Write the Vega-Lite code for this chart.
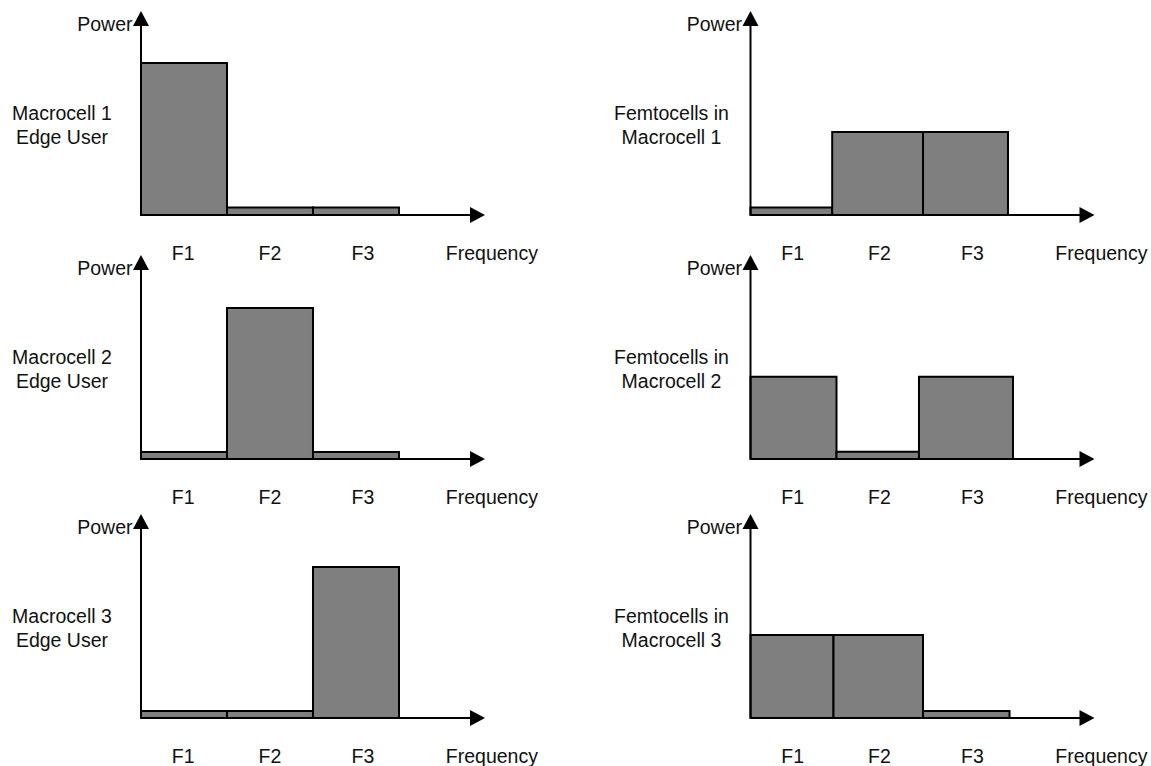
{
  "$schema": "https://vega.github.io/schema/vega-lite/v6.json",
  "padding": 0,
  "background": "white",
  "spacing": 0,
  "bounds": "flush",
  "align": "each",
  "columns": 2,
  "config": {"view": {"stroke": null}, "concat": {"spacing": 0}},
  "resolve": {"scale": {"x": "independent", "y": "independent"}},
  "datasets": {
    "bars": [
      {"panel": "M1", "band": "F1", "x": 0, "xe": 1, "y": 1.0},
      {"panel": "M1", "band": "F2", "x": 1, "xe": 2, "y": 0.049},
      {"panel": "M1", "band": "F3", "x": 2, "xe": 3, "y": 0.049},
      {"panel": "M2", "band": "F1", "x": 0, "xe": 1, "y": 0.046},
      {"panel": "M2", "band": "F2", "x": 1, "xe": 2, "y": 0.993},
      {"panel": "M2", "band": "F3", "x": 2, "xe": 3, "y": 0.046},
      {"panel": "M3", "band": "F1", "x": 0, "xe": 1, "y": 0.046},
      {"panel": "M3", "band": "F2", "x": 1, "xe": 2, "y": 0.046},
      {"panel": "M3", "band": "F3", "x": 2, "xe": 3, "y": 0.993},
      {"panel": "E1", "band": "F1", "x": 0, "xe": 0.95, "y": 0.05},
      {"panel": "E1", "band": "F2", "x": 0.95, "xe": 2.006, "y": 0.546},
      {"panel": "E1", "band": "F3", "x": 2.006, "xe": 2.994, "y": 0.546},
      {"panel": "E2", "band": "F1", "x": 0, "xe": 1.0, "y": 0.541},
      {"panel": "E2", "band": "F2", "x": 1.0, "xe": 1.959, "y": 0.048},
      {"panel": "E2", "band": "F3", "x": 1.959, "xe": 3.052, "y": 0.541},
      {"panel": "E3", "band": "F1", "x": 0, "xe": 0.965, "y": 0.546},
      {"panel": "E3", "band": "F2", "x": 0.965, "xe": 2.006, "y": 0.546},
      {"panel": "E3", "band": "F3", "x": 2.006, "xe": 3.012, "y": 0.046}
    ],
    "axes": [
      {"x": 0, "y": 0, "xe": 0, "ye": 1.25},
      {"x": 0, "y": 0, "xe": 3.84, "ye": 0}
    ],
    "arrows": [
      {"x": 0, "y": 1.342, "dir": "up"},
      {"x": 4.0, "y": 0, "dir": "right"}
    ],
    "texts": [
      {"panel": "all", "label": "Power", "x": -0.42, "y": 1.2125},
      {"panel": "all", "label": "F1", "x": 0.49, "y": -0.296},
      {"panel": "all", "label": "F2", "x": 1.5, "y": -0.296},
      {"panel": "all", "label": "F3", "x": 2.58, "y": -0.296},
      {"panel": "all", "label": "Frequency", "x": 4.08, "y": -0.296},
      {"panel": "M1", "label": "Macrocell 1", "x": -0.919, "y": 0.625},
      {"panel": "M1", "label": "Edge User", "x": -0.919, "y": 0.467},
      {"panel": "M2", "label": "Macrocell 2", "x": -0.919, "y": 0.625},
      {"panel": "M2", "label": "Edge User", "x": -0.919, "y": 0.467},
      {"panel": "M3", "label": "Macrocell 3", "x": -0.919, "y": 0.625},
      {"panel": "M3", "label": "Edge User", "x": -0.919, "y": 0.467},
      {"panel": "E1", "label": "Femtocells in", "x": -0.919, "y": 0.625},
      {"panel": "E1", "label": "Macrocell 1", "x": -0.919, "y": 0.467},
      {"panel": "E2", "label": "Femtocells in", "x": -0.919, "y": 0.625},
      {"panel": "E2", "label": "Macrocell 2", "x": -0.919, "y": 0.467},
      {"panel": "E3", "label": "Femtocells in", "x": -0.919, "y": 0.625},
      {"panel": "E3", "label": "Macrocell 3", "x": -0.919, "y": 0.467}
    ]
  },
  "concat": [
    {
      "width": 575, "height": 245,
      "encoding": {
        "x": {"field": "x", "type": "quantitative", "scale": {"domain": [-1.6395, 5.0465], "nice": false, "zero": false}, "axis": null},
        "y": {"field": "y", "type": "quantitative", "scale": {"domain": [-0.1974, 1.4145], "nice": false, "zero": false}, "axis": null}
      },
      "layer": [
        {"data": {"name": "bars"}, "transform": [{"filter": "datum.panel === 'M1'"}], "mark": {"type": "rect", "fill": "#7f7f7f", "stroke": "#000", "strokeWidth": 2}, "encoding": {"x2": {"field": "xe"}, "y2": {"datum": 0}}},
        {"data": {"name": "axes"}, "mark": {"type": "rule", "stroke": "#000", "strokeWidth": 2}, "encoding": {"x2": {"field": "xe"}, "y2": {"field": "ye"}}},
        {"data": {"name": "arrows"}, "mark": {"type": "point", "filled": true, "opacity": 1, "size": 256, "strokeWidth": 0, "color": "#000"}, "encoding": {"shape": {"field": "dir", "type": "nominal", "scale": {"domain": ["up", "right"], "range": ["M0,0L-1,1.875L1,1.875Z", "M0,0L-1.875,-1L-1.875,1Z"]}, "legend": null}}},
        {"data": {"name": "texts"}, "transform": [{"filter": "datum.panel === 'all' || datum.panel === 'M1'"}], "mark": {"type": "text", "align": "center", "baseline": "alphabetic", "font": "Liberation Sans", "fontSize": 19.5, "color": "#111"}, "encoding": {"text": {"field": "label"}}}
      ]
    },
    {
      "width": 576, "height": 245,
      "encoding": {
        "x": {"field": "x", "type": "quantitative", "scale": {"domain": [-2.0407, 4.657], "nice": false, "zero": false}, "axis": null},
        "y": {"field": "y", "type": "quantitative", "scale": {"domain": [-0.1974, 1.4145], "nice": false, "zero": false}, "axis": null}
      },
      "layer": [
        {"data": {"name": "bars"}, "transform": [{"filter": "datum.panel === 'E1'"}], "mark": {"type": "rect", "fill": "#7f7f7f", "stroke": "#000", "strokeWidth": 2}, "encoding": {"x2": {"field": "xe"}, "y2": {"datum": 0}}},
        {"data": {"name": "axes"}, "mark": {"type": "rule", "stroke": "#000", "strokeWidth": 2}, "encoding": {"x2": {"field": "xe"}, "y2": {"field": "ye"}}},
        {"data": {"name": "arrows"}, "mark": {"type": "point", "filled": true, "opacity": 1, "size": 256, "strokeWidth": 0, "color": "#000"}, "encoding": {"shape": {"field": "dir", "type": "nominal", "scale": {"domain": ["up", "right"], "range": ["M0,0L-1,1.875L1,1.875Z", "M0,0L-1.875,-1L-1.875,1Z"]}, "legend": null}}},
        {"data": {"name": "texts"}, "transform": [{"filter": "datum.panel === 'all' || datum.panel === 'E1'"}], "mark": {"type": "text", "align": "center", "baseline": "alphabetic", "font": "Liberation Sans", "fontSize": 19.5, "color": "#111"}, "encoding": {"text": {"field": "label"}}}
      ]
    },
    {
      "width": 575, "height": 260,
      "encoding": {
        "x": {"field": "x", "type": "quantitative", "scale": {"domain": [-1.6395, 5.0465], "nice": false, "zero": false}, "axis": null},
        "y": {"field": "y", "type": "quantitative", "scale": {"domain": [-0.3026, 1.4079], "nice": false, "zero": false}, "axis": null}
      },
      "layer": [
        {"data": {"name": "bars"}, "transform": [{"filter": "datum.panel === 'M2'"}], "mark": {"type": "rect", "fill": "#7f7f7f", "stroke": "#000", "strokeWidth": 2}, "encoding": {"x2": {"field": "xe"}, "y2": {"datum": 0}}},
        {"data": {"name": "axes"}, "mark": {"type": "rule", "stroke": "#000", "strokeWidth": 2}, "encoding": {"x2": {"field": "xe"}, "y2": {"field": "ye"}}},
        {"data": {"name": "arrows"}, "mark": {"type": "point", "filled": true, "opacity": 1, "size": 256, "strokeWidth": 0, "color": "#000"}, "encoding": {"shape": {"field": "dir", "type": "nominal", "scale": {"domain": ["up", "right"], "range": ["M0,0L-1,1.875L1,1.875Z", "M0,0L-1.875,-1L-1.875,1Z"]}, "legend": null}}},
        {"data": {"name": "texts"}, "transform": [{"filter": "datum.panel === 'all' || datum.panel === 'M2'"}], "mark": {"type": "text", "align": "center", "baseline": "alphabetic", "font": "Liberation Sans", "fontSize": 19.5, "color": "#111"}, "encoding": {"text": {"field": "label"}}}
      ]
    },
    {
      "width": 576, "height": 260,
      "encoding": {
        "x": {"field": "x", "type": "quantitative", "scale": {"domain": [-2.0407, 4.657], "nice": false, "zero": false}, "axis": null},
        "y": {"field": "y", "type": "quantitative", "scale": {"domain": [-0.3026, 1.4079], "nice": false, "zero": false}, "axis": null}
      },
      "layer": [
        {"data": {"name": "bars"}, "transform": [{"filter": "datum.panel === 'E2'"}], "mark": {"type": "rect", "fill": "#7f7f7f", "stroke": "#000", "strokeWidth": 2}, "encoding": {"x2": {"field": "xe"}, "y2": {"datum": 0}}},
        {"data": {"name": "axes"}, "mark": {"type": "rule", "stroke": "#000", "strokeWidth": 2}, "encoding": {"x2": {"field": "xe"}, "y2": {"field": "ye"}}},
        {"data": {"name": "arrows"}, "mark": {"type": "point", "filled": true, "opacity": 1, "size": 256, "strokeWidth": 0, "color": "#000"}, "encoding": {"shape": {"field": "dir", "type": "nominal", "scale": {"domain": ["up", "right"], "range": ["M0,0L-1,1.875L1,1.875Z", "M0,0L-1.875,-1L-1.875,1Z"]}, "legend": null}}},
        {"data": {"name": "texts"}, "transform": [{"filter": "datum.panel === 'all' || datum.panel === 'E2'"}], "mark": {"type": "text", "align": "center", "baseline": "alphabetic", "font": "Liberation Sans", "fontSize": 19.5, "color": "#111"}, "encoding": {"text": {"field": "label"}}}
      ]
    },
    {
      "width": 575, "height": 261,
      "encoding": {
        "x": {"field": "x", "type": "quantitative", "scale": {"domain": [-1.6395, 5.0465], "nice": false, "zero": false}, "axis": null},
        "y": {"field": "y", "type": "quantitative", "scale": {"domain": [-0.3158, 1.4013], "nice": false, "zero": false}, "axis": null}
      },
      "layer": [
        {"data": {"name": "bars"}, "transform": [{"filter": "datum.panel === 'M3'"}], "mark": {"type": "rect", "fill": "#7f7f7f", "stroke": "#000", "strokeWidth": 2}, "encoding": {"x2": {"field": "xe"}, "y2": {"datum": 0}}},
        {"data": {"name": "axes"}, "mark": {"type": "rule", "stroke": "#000", "strokeWidth": 2}, "encoding": {"x2": {"field": "xe"}, "y2": {"field": "ye"}}},
        {"data": {"name": "arrows"}, "mark": {"type": "point", "filled": true, "opacity": 1, "size": 256, "strokeWidth": 0, "color": "#000"}, "encoding": {"shape": {"field": "dir", "type": "nominal", "scale": {"domain": ["up", "right"], "range": ["M0,0L-1,1.875L1,1.875Z", "M0,0L-1.875,-1L-1.875,1Z"]}, "legend": null}}},
        {"data": {"name": "texts"}, "transform": [{"filter": "datum.panel === 'all' || datum.panel === 'M3'"}], "mark": {"type": "text", "align": "center", "baseline": "alphabetic", "font": "Liberation Sans", "fontSize": 19.5, "color": "#111"}, "encoding": {"text": {"field": "label"}}}
      ]
    },
    {
      "width": 576, "height": 261,
      "encoding": {
        "x": {"field": "x", "type": "quantitative", "scale": {"domain": [-2.0407, 4.657], "nice": false, "zero": false}, "axis": null},
        "y": {"field": "y", "type": "quantitative", "scale": {"domain": [-0.3158, 1.4013], "nice": false, "zero": false}, "axis": null}
      },
      "layer": [
        {"data": {"name": "bars"}, "transform": [{"filter": "datum.panel === 'E3'"}], "mark": {"type": "rect", "fill": "#7f7f7f", "stroke": "#000", "strokeWidth": 2}, "encoding": {"x2": {"field": "xe"}, "y2": {"datum": 0}}},
        {"data": {"name": "axes"}, "mark": {"type": "rule", "stroke": "#000", "strokeWidth": 2}, "encoding": {"x2": {"field": "xe"}, "y2": {"field": "ye"}}},
        {"data": {"name": "arrows"}, "mark": {"type": "point", "filled": true, "opacity": 1, "size": 256, "strokeWidth": 0, "color": "#000"}, "encoding": {"shape": {"field": "dir", "type": "nominal", "scale": {"domain": ["up", "right"], "range": ["M0,0L-1,1.875L1,1.875Z", "M0,0L-1.875,-1L-1.875,1Z"]}, "legend": null}}},
        {"data": {"name": "texts"}, "transform": [{"filter": "datum.panel === 'all' || datum.panel === 'E3'"}], "mark": {"type": "text", "align": "center", "baseline": "alphabetic", "font": "Liberation Sans", "fontSize": 19.5, "color": "#111"}, "encoding": {"text": {"field": "label"}}}
      ]
    }
  ]
}
